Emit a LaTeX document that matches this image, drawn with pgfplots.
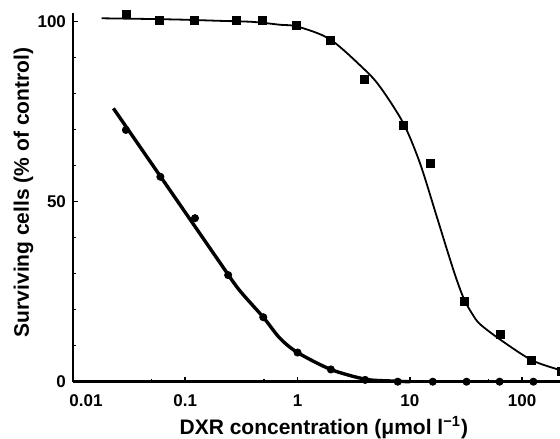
\documentclass[border=0pt]{standalone}
\usepackage{fontspec}
\setmainfont{Liberation Sans}
\usepackage{pgfplots}
\pgfplotsset{compat=1.18}

\begin{document}
\begin{tikzpicture}
  \begin{axis}[
    at={(0,0)}, anchor=south west,
    scale only axis, width=246.9pt, height=184.4pt,
    xmode=log, xmin=0.01, xmax=250, ymin=0, ymax=102.4,
    enlargelimits=false, clip=false,
    axis x line*=bottom, axis y line*=left,
    axis line style={line width=1.3pt, -},
    xtick={0.01,0.1,1,10,100},
    xticklabels={\hspace*{13pt}0.01,0.1,1,10,100},
    minor xtick={0.05,0.5,5,50},
    ytick={0,50,100}, minor ytick={10,20,30,40,60,70,80,90},
    tick align=inside,
    major tick length=2.5pt, minor tick length=1.5pt,
    every tick/.style={line width=0.8pt, black},
    ticklabel style={font=\bfseries\fontsize{8.5}{10}\selectfont},
    xticklabel style={yshift=-3pt},
    /pgf/number format/assume math mode=true,
    xlabel={DXR concentration (μmol l\textsuperscript{−1})},
    ylabel={Surviving cells (\% of control)},
    label style={font=\bfseries\fontsize{10.5}{12}\selectfont},
    xlabel style={at={(rel axis cs:0.508,0)}, anchor=base, yshift=-26.15pt},
    ylabel style={at={(rel axis cs:0,0.513)}, anchor=center, yshift=24.75pt},
  ]
    % fitted curve, squares
    \addplot[black, line width=0.9pt, smooth, tension=0.5] coordinates {
      (0.018,100.9)(0.05,100.7)(0.1,100.5)(0.2,100.2)(0.4,99.9)(0.7,99.1)
      (1.0,98.6)(1.94,95.1)(3.85,87.0)(5.42,81.9)(8.74,71.8)(12.3,60.7)
      (17.3,46.0)(22.0,35.5)(26.0,28.5)(30.5,22.8)(36.0,18.8)(42.1,16.0)
      (64.4,11.6)(121.6,6.0)(214,3.3)(250,2.8)
    };
    % fitted curve, circles
    \addplot[black, line width=1.7pt, smooth, tension=0.5] coordinates {
      (0.0229,75.9)(0.05,60.6)(0.1,47.0)(0.2,33.4)(0.3,25.6)
      (0.495,17.9)(0.697,12.05)(1.0,8.1)(1.98,3.4)(4.0,0.7)(6.7,0.2)(10,0)
    };
    % squares
    \addplot[only marks, mark=square*, mark size=2pt, black] coordinates {
      (0.0296,101.9)(0.0586,100.3)(0.12,100.3)(0.283,100.2)(0.485,100.2)
      (0.98,98.8)(1.97,94.9)(3.9,83.8)(8.7,71.2)(15.2,60.5)(30.5,22.4)
      (64.4,13.0)(121.6,6.0)(226,2.8)
    };
    % circles
    \addplot[only marks, mark=*, mark size=1.8pt, black] coordinates {
      (0.0296,69.9)(0.06,56.9)(0.122,45.4)(0.241,29.6)(0.495,17.9)
      (1.0,8.1)(1.98,3.4)(4.0,0.5)(7.8,0)(16,0)(32,0)(63,0)(126,0)
    };
  \end{axis}
  \pgfresetboundingbox
  \useasboundingbox (-36.5pt,-28.15pt) rectangle (243.5pt,190.85pt);
\end{tikzpicture}
\end{document}
